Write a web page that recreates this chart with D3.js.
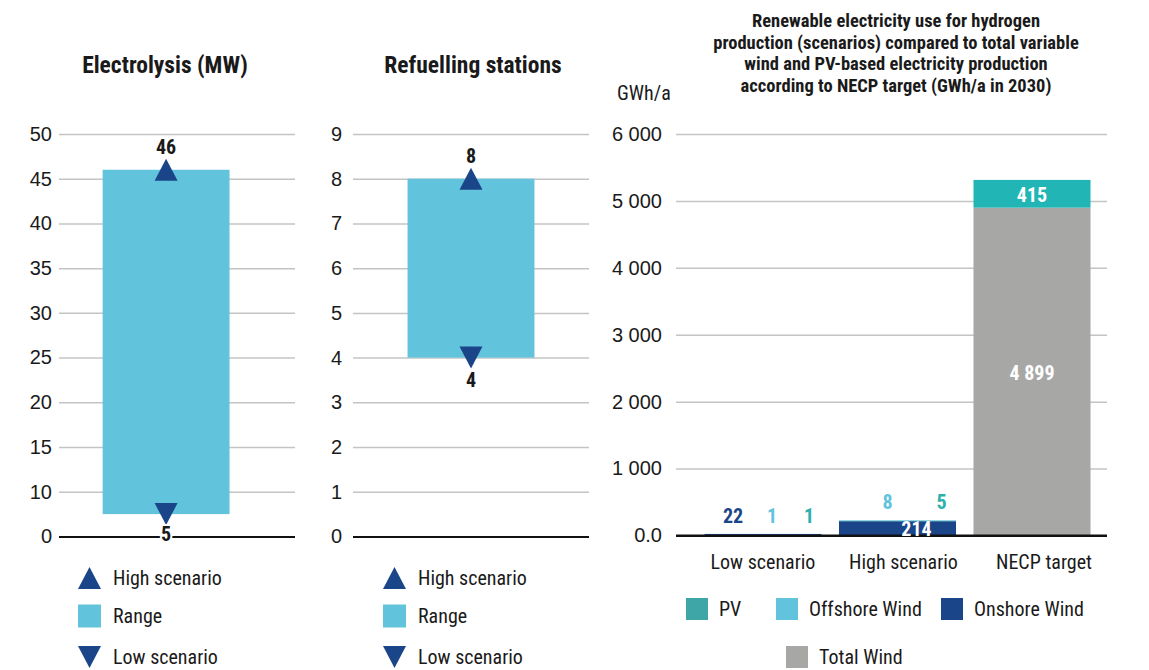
<!DOCTYPE html>
<html>
<head>
<meta charset="utf-8">
<script src="https://cdn.jsdelivr.net/npm/d3@7/dist/d3.min.js"></script>
<style>
  html, body { margin: 0; padding: 0; background: #fff; }
  svg { display: block; }
  text { font-family: "Liberation Sans Narrow", "Roboto Condensed", "DejaVu Sans Condensed", "Arial Narrow", sans-serif; fill: #1a1a1a; }
</style>
</head>
<body>
<svg id="chart" width="1149" height="670"></svg>
<script>
// ---- Electrolysis capacity (MW) ----
const electroTicks = [0, 10, 15, 20, 25, 30, 35, 40, 45, 50];
const electroHigh = 46;
const electroLow = 5;

// ---- Refuelling stations ----
const stationTicks = [0, 1, 2, 3, 4, 5, 6, 7, 8, 9];
const stationHigh = 8;
const stationLow = 4;

// ---- Renewable electricity for hydrogen vs NECP target (GWh/a, 2030) ----
const scenarios = ["Low scenario", "High scenario", "NECP target"];
const onshoreWind = [22, 214, 0];
const offshoreWind = [1, 8, 0];
const totalWind = [0, 0, 4899];
const pvValues = [1, 5, 415];
const energyTicks = [0, 1000, 2000, 3000, 4000, 5000, 6000];

const rangeLegend = ["High scenario", "Range", "Low scenario"];
const energyLegend = ["PV", "Offshore Wind", "Onshore Wind", "Total Wind"];

const C = {
  navy: "#1b4589",
  range: "#62c3dc",
  teal: "#22b5b5",
  tealLegend: "#3ea6a6",
  gray: "#a7a7a6",
  grid: "#c4c4c4"
};

const svg = d3.select("#chart");
svg.append("rect").attr("width", 1149).attr("height", 670).attr("fill", "#fff");

const fmt = d3.formatLocale({ decimal: ".", thousands: " ", grouping: [3], currency: ["", ""] }).format(",d");

// gridlines + tick labels for a value axis
function drawAxis(g, y, ticks, x0, x1, gap, labelFn) {
  const ax = g.append("g").attr("transform", `translate(${x0},0)`)
    .call(d3.axisLeft(y).tickValues(ticks).tickSize(-(x1 - x0)).tickPadding(gap).tickFormat(labelFn));
  ax.select(".domain").remove();
  ax.selectAll(".tick line")
    .attr("stroke", d => d === 0 ? "#111" : C.grid)
    .attr("stroke-width", d => d === 0 ? 2 : 1.5);
  ax.selectAll(".tick text").attr("font-size", 20).attr("fill", "#1a1a1a")
    .style("font-family", "\"Liberation Sans Narrow\", \"Arial Narrow\", sans-serif");
  return ax;
}

function triPath(cx, cy, up) {
  const w = 11.5, h = 11;
  return up
    ? `M${cx - w},${cy + h}L${cx + w},${cy + h}L${cx},${cy - h}Z`
    : `M${cx - w},${cy - h}L${cx + w},${cy - h}L${cx},${cy + h}Z`;
}

// Range panel: bar between low and high scenario with triangle markers
function rangePanel(opts) {
  const g = svg.append("g");
  const { title, titleX, y, ticks, x0, x1, gap, align, high, low } = opts;
  g.append("text").attr("x", titleX).attr("y", 73).attr("text-anchor", "middle")
    .attr("font-size", 23.5).attr("font-weight", "bold").text(title);

  drawAxis(g, y, ticks, x0, x1, gap, d => d);

  const x = d3.scaleBand().domain([title]).range([x0, x1]).paddingOuter(0.43).align(align);
  const cx = x(title) + x.bandwidth() / 2;

  g.append("rect").attr("x", x(title)).attr("width", x.bandwidth())
    .attr("y", y(high)).attr("height", y(low) - y(high)).attr("fill", C.range);

  g.append("path").attr("d", triPath(cx, y(high), true)).attr("fill", C.navy);
  g.append("path").attr("d", triPath(cx, y(low), false)).attr("fill", C.navy);

  g.append("text").attr("x", cx).attr("y", y(high) - 16).attr("text-anchor", "middle")
    .attr("font-size", 20).attr("font-weight", "bold").text(high);
  // low label sits under the marker; a white halo keeps it legible over the zero line
  g.append("text").attr("x", cx).attr("y", Math.min(y(low) + 29, opts.lowLabelMax)).attr("text-anchor", "middle")
    .attr("font-size", 20).attr("font-weight", "bold")
    .attr("stroke", "#fff").attr("stroke-width", 4).attr("paint-order", "stroke")
    .text(low);

  // legend
  const lx = opts.legendX;
  const rows = [578, 616, 657];
  rangeLegend.forEach((name, i) => {
    const cy = rows[i];
    if (i === 1) {
      g.append("rect").attr("x", lx).attr("y", cy - 11.5).attr("width", 23).attr("height", 23).attr("fill", C.range);
    } else {
      g.append("path").attr("d", triPath(lx + 11.5, cy, i === 0)).attr("fill", C.navy);
    }
    g.append("text").attr("x", lx + 35).attr("y", cy + 7).attr("font-size", 20).text(name);
  });
}

rangePanel({
  title: "Electrolysis (MW)", titleX: 165,
  y: d3.scaleLinear().domain([0, 10, 50]).range([536.5, 491.7, 134]),
  ticks: electroTicks, x0: 59, x1: 295, gap: 7, align: 0.4,
  high: electroHigh, low: electroLow, legendX: 78, lowLabelMax: 541
});

rangePanel({
  title: "Refuelling stations", titleX: 473,
  y: d3.scaleLinear().domain([0, 9]).range([536.5, 134]),
  ticks: stationTicks, x0: 353, x1: 589, gap: 11, align: 0.5,
  high: stationHigh, low: stationLow, legendX: 383, lowLabelMax: 541
});

// ---- stacked bar panel ----
const p3 = svg.append("g");
const titleLines = [
  "Renewable electricity use for hydrogen",
  "production (scenarios) compared to total variable",
  "wind and PV-based electricity production",
  "according to NECP target (GWh/a in 2030)"
];
p3.selectAll(".title3").data(titleLines).join("text").attr("class", "title3")
  .attr("x", 896).attr("y", (d, i) => 27 + i * 21.5).attr("text-anchor", "middle")
  .attr("font-size", 18.5).attr("font-weight", "bold").text(d => d);

p3.append("text").attr("x", 617).attr("y", 100).attr("font-size", 20).text("GWh/a");

const y3 = d3.scaleLinear().domain([0, 6000]).range([535.5, 134]);
drawAxis(p3, y3, energyTicks, 676, 1107, 14, d => d === 0 ? "0.0" : fmt(d));

const x3 = d3.scaleBand().domain(scenarios).range([687, 1108]).padding(0.13);

const rows3 = scenarios.map((s, i) => ({
  cat: s, onshore: onshoreWind[i], offshore: offshoreWind[i], total: totalWind[i], pv: pvValues[i]
}));
const keys = ["onshore", "offshore", "total", "pv"];
const colors = { onshore: C.navy, offshore: C.range, total: C.gray, pv: C.teal };
const series = d3.stack().keys(keys)(rows3);

p3.append("g").selectAll("g").data(series).join("g").attr("fill", s => colors[s.key])
  .selectAll("rect").data(s => s.map(d => ({ d, key: s.key }))).join("rect")
  .attr("x", o => x3(o.d.data.cat)).attr("width", x3.bandwidth())
  .attr("y", o => y3(o.d[1])).attr("height", o => y3(o.d[0]) - y3(o.d[1]));

// zero line drawn above bars
p3.append("line").attr("x1", 676).attr("x2", 1107).attr("y1", y3(0)).attr("y2", y3(0))
  .attr("stroke", "#111").attr("stroke-width", 2);

// value labels
const labelPlacement = {
  "Low scenario": { onshore: { pos: "above", dx: -30 }, offshore: { pos: "above", dx: 9 }, pv: { pos: "above", dx: 46 } },
  "High scenario": { onshore: { pos: "inside", dx: 19 }, offshore: { pos: "above", dx: -10 }, pv: { pos: "above", dx: 44 } },
  "NECP target": { total: { pos: "inside", dx: 0 }, pv: { pos: "inside", dx: 0 } }
};
const labelColor = { onshore: C.navy, offshore: C.range, pv: "#2db0ad", total: "#fff" };

series.forEach(s => {
  s.forEach(d => {
    const place = labelPlacement[d.data.cat][s.key];
    if (!place) return;
    const cx = x3(d.data.cat) + x3.bandwidth() / 2 + place.dx;
    const top = y3(d.data.onshore + d.data.offshore + d.data.total + d.data.pv);
    let ty, fill;
    if (place.pos === "above") {
      ty = top - 11; fill = labelColor[s.key];
    } else {
      ty = (y3(d[0]) + y3(d[1])) / 2 + 8; fill = "#fff";
    }
    p3.append("text").attr("x", cx).attr("y", ty).attr("text-anchor", "middle")
      .attr("font-size", 20).attr("font-weight", "bold").attr("fill", fill)
      .style("fill", fill).text(fmt(d.data[s.key]));
  });
});

// category labels
const catLabelDx = [0, 6, 12];
p3.selectAll(".cat").data(scenarios).join("text").attr("class", "cat")
  .attr("x", (d, i) => x3(d) + x3.bandwidth() / 2 + catLabelDx[i]).attr("y", 569)
  .attr("text-anchor", "middle").attr("font-size", 20).text(d => d);

// legend
const legPos = [[686, 609], [776, 609], [941, 609], [786, 657]];
const legColor = [C.tealLegend, C.range, C.navy, C.gray];
energyLegend.forEach((name, i) => {
  const [lx, cy] = legPos[i];
  p3.append("rect").attr("x", lx).attr("y", cy - 11).attr("width", 22).attr("height", 22).attr("fill", legColor[i]);
  p3.append("text").attr("x", lx + 33).attr("y", cy + 7).attr("font-size", 20).text(name);
});
</script>
</body>
</html>
